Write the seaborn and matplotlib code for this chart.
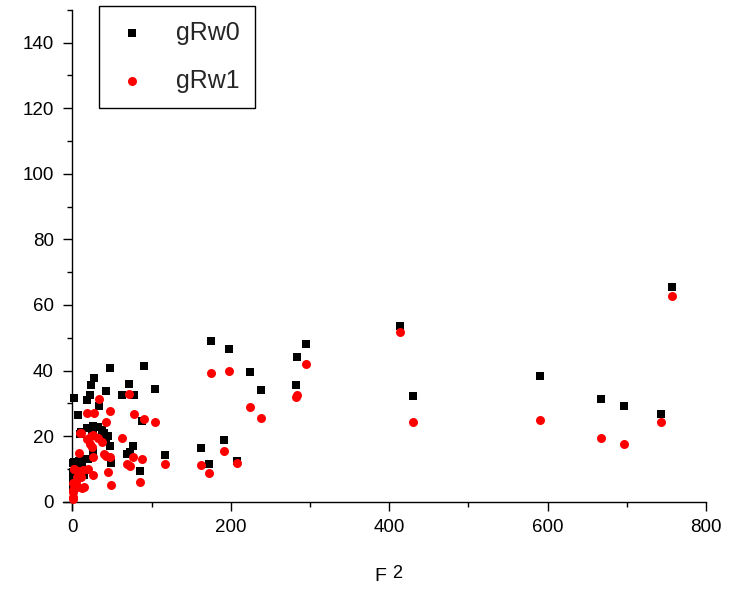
import matplotlib
matplotlib.use("Agg")
import matplotlib.pyplot as plt
from matplotlib.ticker import MultipleLocator
import pandas as pd
import seaborn as sns

# Structure factor squared and the two weighted R values per reflection group
f2 = [757.0, 742.7, 696.0, 667.5, 590.3, 429.5, 413.1, 294.7, 283.5, 282.5,
      238.5, 224.7, 207.4, 198.4, 191.0, 174.5, 173.2, 162.5, 117.0, 103.8,
      90.0, 87.5, 86.0, 78.5, 76.0, 73.0, 71.8, 68.5, 63.0, 48.7,
      47.5, 47.0, 45.0, 42.4, 42.0, 40.3, 37.0, 34.0, 32.7, 27.7,
      26.5, 26.5, 26.5, 24.4, 23.6, 21.9, 18.0, 18.0, 19.3, 14.7,
      13.9, 12.7, 11.0, 10.6, 9.7, 8.4, 7.6, 6.0, 5.5, 4.7,
      3.0, 2.1, 1.7, 1.3, 1.0, 0.8, 0.5, 0.3]
grw0 = [65.4, 26.8, 29.3, 31.4, 38.3, 32.2, 53.7, 48.0, 44.0, 35.7,
        34.0, 39.5, 12.5, 46.6, 18.7, 49.1, 11.5, 16.5, 14.2, 34.3,
        41.5, 24.5, 9.3, 32.4, 17.0, 15.0, 35.9, 14.5, 32.4, 11.9,
        17.1, 40.7, 20.0, 33.8, 18.8, 20.8, 21.9, 29.3, 22.9, 37.7,
        23.1, 22.0, 15.0, 20.5, 35.5, 32.4, 31.0, 22.6, 13.0, 8.1,
        12.9, 11.0, 10.0, 21.3, 20.5, 12.3, 26.5, 11.0, 9.8, 10.5,
        8.0, 12.2, 31.7, 11.7, 7.6, 9.0, 6.0, 4.5]
grw1 = [62.8, 24.2, 17.5, 19.5, 24.8, 24.2, 51.8, 42.0, 32.4, 32.0,
        25.6, 28.8, 11.7, 40.0, 15.6, 39.1, 8.7, 11.1, 11.5, 24.2,
        25.2, 13.0, 6.1, 26.7, 13.6, 10.8, 32.8, 11.5, 19.3, 5.0,
        13.7, 27.7, 9.1, 24.3, 14.0, 14.4, 18.3, 31.3, 19.5, 27.0,
        20.3, 13.7, 8.1, 16.8, 20.0, 17.5, 27.0, 19.0, 10.1, 4.4,
        9.7, 4.2, 7.6, 21.0, 20.9, 14.8, 9.3, 4.6, 7.6, 6.0,
        5.0, 9.9, 10.0, 5.6, 3.5, 3.0, 1.5, 0.9]

x_ticks = [0, 200, 400, 600, 800]
y_ticks = [0, 20, 40, 60, 80, 100, 120, 140]

sns.set_style("ticks")
plt.rcParams["font.family"] = ["Liberation Sans", "DejaVu Sans"]

df = pd.DataFrame({"F2": f2, "gRw0": grw0, "gRw1": grw1})

fig = plt.figure(figsize=(7.38, 5.89), dpi=100)
ax = fig.add_axes([0.0851, 0.1343, 0.8715, 0.8492])

sns.scatterplot(data=df, x="F2", y="gRw0", marker="s", color="black", s=33,
                linewidth=0, ax=ax, label="gRw0", zorder=3)
sns.scatterplot(data=df, x="F2", y="gRw1", marker="o", color="red", s=42,
                linewidth=0, ax=ax, label="gRw1", zorder=4)

ax.set_xlim(-12, 800)
ax.set_ylim(-2.5, 150)
ax.set_xticks(x_ticks)
ax.set_yticks(y_ticks)
ax.xaxis.set_minor_locator(MultipleLocator(100))
ax.yaxis.set_minor_locator(MultipleLocator(10))

for side in ("top", "right"):
    ax.spines[side].set_visible(False)
for side in ("left", "bottom"):
    ax.spines[side].set_position(("data", 0))
    ax.spines[side].set_color("black")
    ax.spines[side].set_linewidth(1.0)

ax.tick_params(which="major", direction="out", length=6.7, width=1.0,
               color="black", labelsize=13.5, labelcolor="black")
ax.tick_params(which="minor", direction="out", length=3.3, width=1.0,
               color="black")
ax.tick_params(axis="y", which="major", pad=6.5)
ax.tick_params(axis="x", which="major", pad=6)

# Axis title F with a raised, nearly full-size exponent
ax.set_xlabel("F", fontsize=14, labelpad=22.5, color="black")
ax.xaxis.label.set_x(0.493)
ax.annotate("2", xy=(1, 0), xycoords=ax.xaxis.label, xytext=(4.4, 5.0),
            textcoords="offset points", fontsize=13, color="black",
            ha="left", va="baseline")
ax.set_ylabel("")

leg = ax.legend(loc="upper left", bbox_to_anchor=(0.1346, 0.9898),
                bbox_transform=fig.transFigure, borderaxespad=0,
                fontsize=18, frameon=True, fancybox=False, framealpha=1,
                edgecolor="black", handlelength=1.45, handletextpad=1.02,
                borderpad=0.6, labelspacing=0.96, scatterpoints=1)
leg.get_frame().set_linewidth(1.0)

fig.savefig("out.png", dpi=100)
